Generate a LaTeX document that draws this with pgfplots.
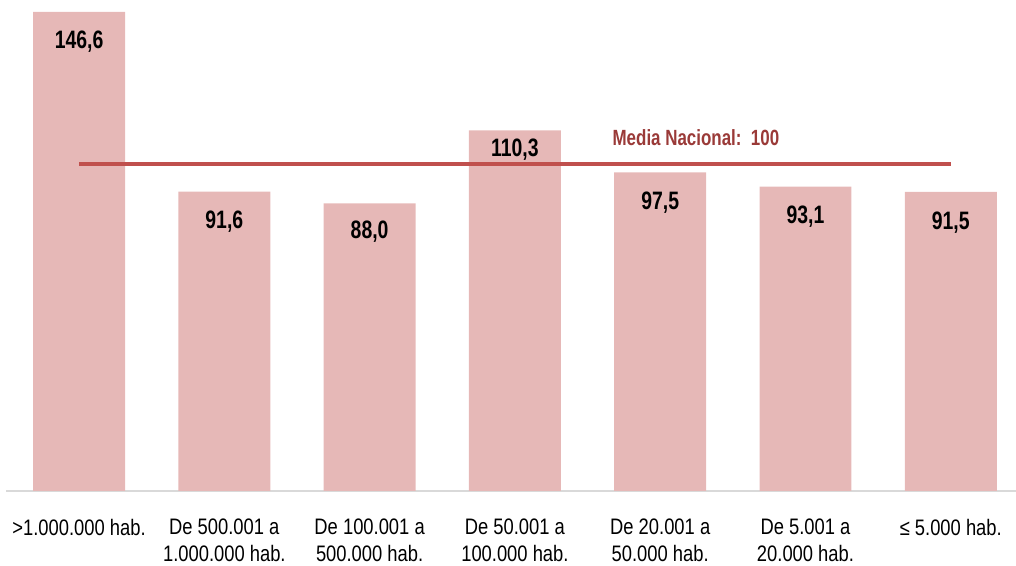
\documentclass[border=0pt]{standalone}
\usepackage{pgfplots}
\usepackage{pgfplotstable}
\pgfplotsset{compat=1.18}
\usepackage{fontspec}
\setmainfont{Liberation Sans}[FakeStretch=0.82, BoldFeatures={FakeStretch=0.77}]
\definecolor{barfill}{HTML}{E6B8B7}
\definecolor{meanline}{HTML}{C0504D}
\definecolor{meanlabel}{HTML}{9A3A38}
\definecolor{basegray}{HTML}{D9D9D9}
\pgfplotstableread{
x   y      off
0   146.6  18.5
1   91.6   18.5
2   88.0   17.5
3   110.3  13
4   97.5   18.5
5   93.1   18.5
6   91.5   19
}\datatable
\begin{document}
\begin{tikzpicture}
\begin{axis}[
  at={(0,0)}, anchor=south west,
  scale only axis,
  width=504.8pt, height=245.5pt,
  xmin=-0.5, xmax=6.449,
  ymin=0, ymax=150.2,
  axis x line*=bottom,
  axis y line=none,
  x axis line style={draw=basegray, line width=0.7pt, -},
  xtick={0,1,2,3,4,5,6},
  xtick style={draw=none},
  xticklabels={{>1.000.000 hab.},{De 500.001 a\\1.000.000 hab.},{De 100.001 a\\500.000 hab.},{De 50.001 a\\100.000 hab.},{De 20.001 a\\50.000 hab.},{De 5.001 a\\20.000 hab.},{≤ 5.000 hab.}},
  xticklabel style={align=center, font=\fontsize{11.2pt}{13.3pt}\selectfont, anchor=north, yshift=-10.5pt},
  ytick=\empty,
  clip=false,
  /pgf/number format/assume math mode=true,
]
\addplot[ybar, bar width=0.633, fill=barfill, draw=none,
  visualization depends on={\thisrow{off} \as \off},
  nodes near coords={\pgfmathprintnumber[fixed, fixed zerofill, precision=1, use comma, assume math mode=true]{\pgfplotspointmeta}},
  nodes near coords style={anchor=base, inner sep=0pt, yshift=-\off pt, font=\fontsize{12.6pt}{15pt}\bfseries\selectfont, text=black},
] table[x=x, y=y] {\datatable};
\addplot[meanline, line width=2pt, mark=none] coordinates {(0,100) (6,100)};
\node[text=meanlabel, font=\fontsize{11pt}{13pt}\bfseries\selectfont] at (axis cs:4.246,108) {Media Nacional:\ \ 100};
\end{axis}
\pgfresetboundingbox
\path[use as bounding box] (-3.2pt,-37.5pt) rectangle (504.8pt,245.5pt);
\end{tikzpicture}
\end{document}
